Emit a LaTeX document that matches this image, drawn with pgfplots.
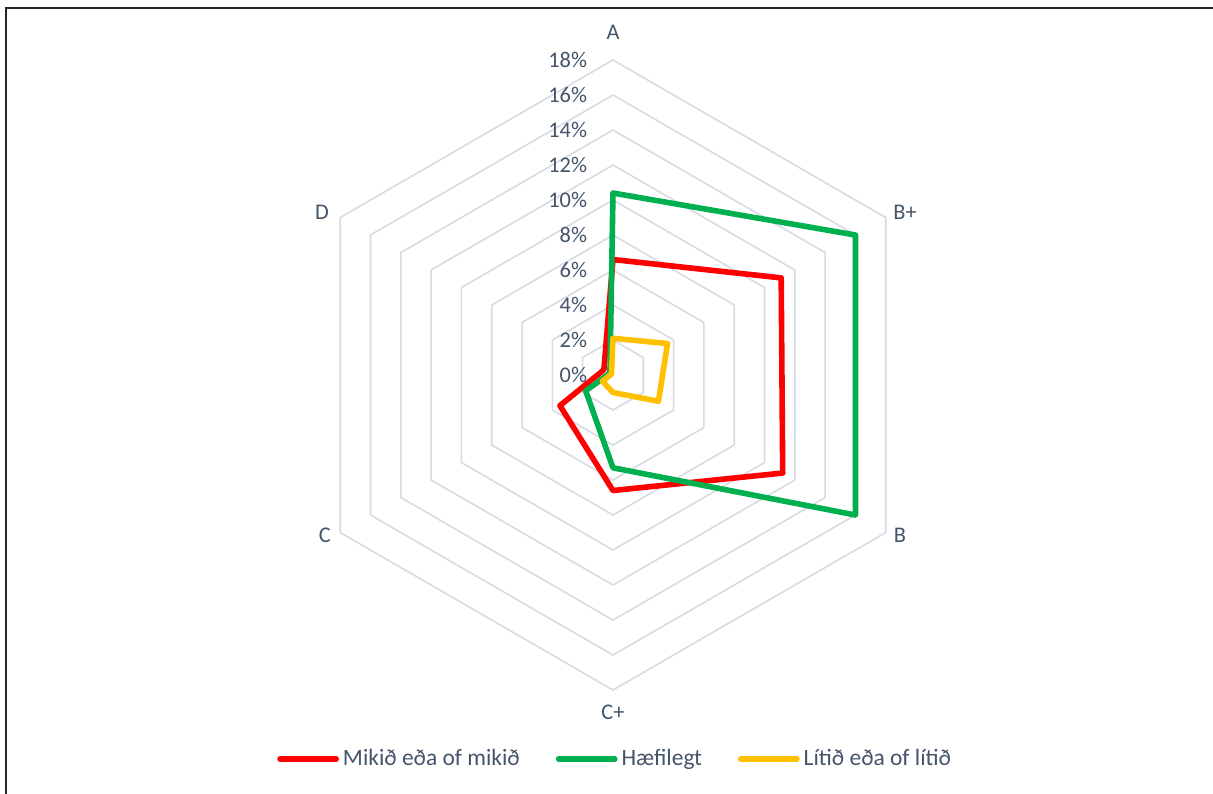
\documentclass[border=0pt]{standalone}
\usepackage{fontspec}
\setmainfont{Carlito}
\usepackage{pgfplots}
\pgfplotsset{compat=1.18}
\definecolor{txt}{HTML}{44546A}
\definecolor{gridc}{HTML}{D6DBE3}
\definecolor{sred}{HTML}{FF0000}
\definecolor{sgreen}{HTML}{00B050}
\definecolor{syellow}{HTML}{FFC000}
\begin{document}
\begin{tikzpicture}
\begin{axis}[
    scale only axis,
    width=16cm, height=10.473cm,
    xmin=-35.03, xmax=34.29,
    ymin=-23.94, ymax=21.43,
    hide axis,
    clip=false,
    font=\fontsize{8.4}{10}\selectfont,
    legend columns=3,
    legend style={at={(0.508,0.044)}, anchor=center, draw=none, fill=none,
        text=txt, font=\fontsize{8.8}{10}\selectfont,
        /tikz/every even column/.append style={column sep=12pt},
        /tikz/every odd column/.append style={column sep=0pt},
        /tikz/every node/.append style={inner xsep=1.5pt}},
    legend image code/.code={\draw[#1, line cap=round] (0cm,0cm) -- (0.74cm,0cm);},
    ring/.style={gridc, line width=0.6pt, forget plot, line join=miter, data cs=polar},
    series/.style={line width=2.1pt, line join=round, line cap=round, data cs=polar},
]
% hexagonal grid rings (2 % steps)
\addplot[ring] coordinates {(90,2)(30,2)(-30,2)(-90,2)(-150,2)(150,2)(90,2)(30,2)};
\addplot[ring] coordinates {(90,4)(30,4)(-30,4)(-90,4)(-150,4)(150,4)(90,4)(30,4)};
\addplot[ring] coordinates {(90,6)(30,6)(-30,6)(-90,6)(-150,6)(150,6)(90,6)(30,6)};
\addplot[ring] coordinates {(90,8)(30,8)(-30,8)(-90,8)(-150,8)(150,8)(90,8)(30,8)};
\addplot[ring] coordinates {(90,10)(30,10)(-30,10)(-90,10)(-150,10)(150,10)(90,10)(30,10)};
\addplot[ring] coordinates {(90,12)(30,12)(-30,12)(-90,12)(-150,12)(150,12)(90,12)(30,12)};
\addplot[ring] coordinates {(90,14)(30,14)(-30,14)(-90,14)(-150,14)(150,14)(90,14)(30,14)};
\addplot[ring] coordinates {(90,16)(30,16)(-30,16)(-90,16)(-150,16)(150,16)(90,16)(30,16)};
\addplot[ring] coordinates {(90,18)(30,18)(-30,18)(-90,18)(-150,18)(150,18)(90,18)(30,18)};

% series: A, B+, B, C+, C, D
\addplot[series, sred] coordinates {
    (90,6.6)(30,11.1)(-30,11.2)(-90,6.6)(-150,3.5)(150,0.6)(90,6.6)};
\addlegendentry{Mikið eða of mikið}
\addplot[series, sgreen] coordinates {
    (90,10.4)(30,16.0)(-30,16.0)(-90,5.3)(-150,1.8)(150,0.2)(90,10.4)};
\addlegendentry{Hæfilegt}
\addplot[series, syellow] coordinates {
    (90,2.1)(30,3.6)(-30,3.0)(-90,1.0)(-150,0.7)(150,0.1)(90,2.1)};
\addlegendentry{Lítið eða of lítið}

% scale labels
\pgfplotsinvokeforeach{0,2,4,6,8,10,12,14,16,18}{
    \node[anchor=east, text=txt, inner sep=0pt] at (axis cs:-1.45,#1) {#1\%};
}
% category labels
\node[text=txt] at (axis cs:0,19.6) {A};
\node[text=txt] at (axis cs:16.69,9.31) {B+};
\node[text=txt] at (axis cs:16.4,-9.14) {B};
\node[text=txt] at (axis cs:0,-19.26) {C+};
\node[text=txt] at (axis cs:-16.46,-9.14) {C};
\node[text=txt] at (axis cs:-16.63,9.31) {D};

% chart area border (only top and left edges fall inside the picture)
\draw[black!85, line width=0.75pt] (axis cs:-34.66,-23.94) -- (axis cs:-34.66,21.0) -- (axis cs:34.29,21.0);
\coordinate (bl) at (rel axis cs:0,0);
\coordinate (tr) at (rel axis cs:1,1);
\end{axis}
\pgfresetboundingbox
\path[use as bounding box] (bl) rectangle (tr);
\end{tikzpicture}
\end{document}
